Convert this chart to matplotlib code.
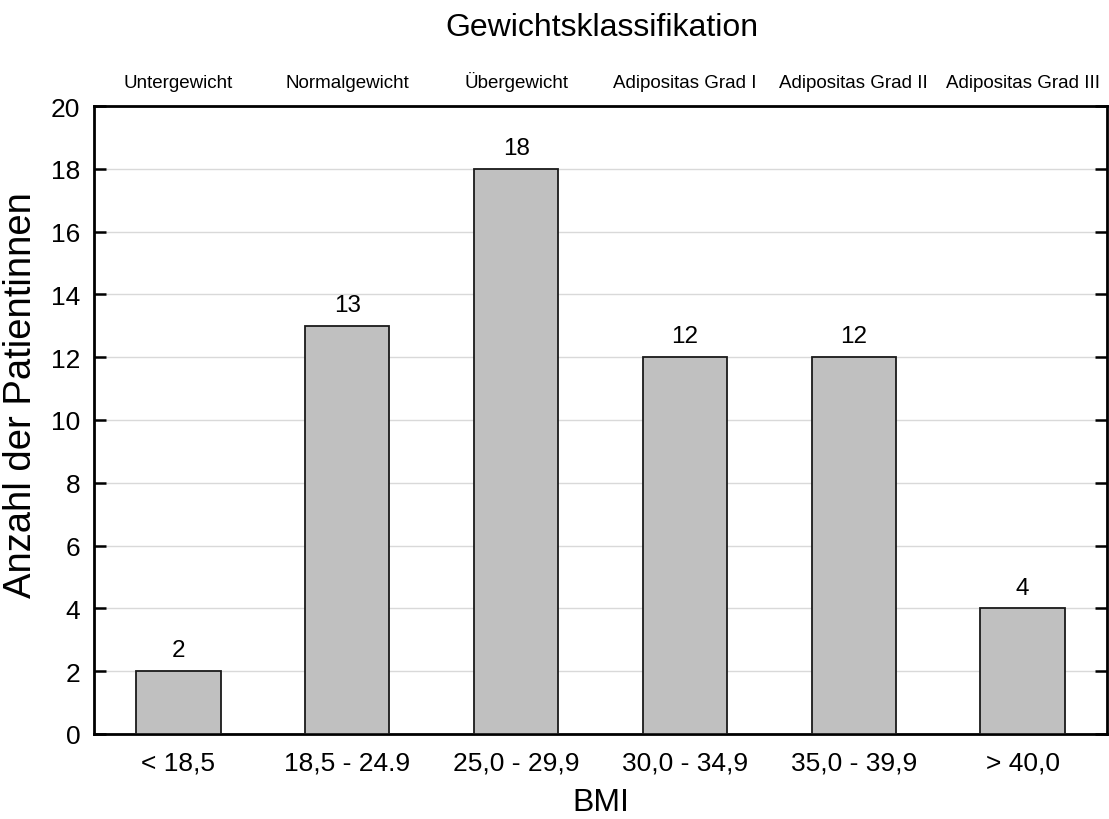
import matplotlib
matplotlib.use("Agg")
import matplotlib.pyplot as plt
import numpy as np

plt.rcParams['font.family'] = ['Liberation Sans', 'DejaVu Sans']

bmi_ranges = ["< 18,5", "18,5 - 24.9", "25,0 - 29,9", "30,0 - 34,9", "35,0 - 39,9", "> 40,0"]
classes = ["Untergewicht", "Normalgewicht", "Übergewicht",
           "Adipositas Grad I", "Adipositas Grad II", "Adipositas Grad III"]
patients = [2, 13, 18, 12, 12, 4]
y_ticks = [0, 2, 4, 6, 8, 10, 12, 14, 16, 18, 20]

fig = plt.figure(figsize=(11.09, 8.20), dpi=100)
ax = fig.add_axes([0.0848, 0.1037, 0.9134, 0.7658])

x = np.arange(len(bmi_ranges))
ax.bar(x, patients, width=0.5, color="#c0c0c0", edgecolor="#1a1a1a",
       linewidth=1.3, zorder=3)

for xi, v in zip(x, patients):
    ax.annotate(str(v), (xi, v), xytext=(0, 7), textcoords="offset points",
                ha="center", va="bottom", fontsize=17.5, zorder=4)

ax.set_xlim(-0.5, len(bmi_ranges) - 0.5)
ax.set_ylim(0, 20)
ax.set_yticks(y_ticks)
ax.set_xticks(x)
ax.set_xticklabels(bmi_ranges, fontsize=19)
ax.tick_params(axis="x", length=0, pad=12)
ax.tick_params(axis="y", direction="in", length=8.6, width=1.8, labelsize=19,
               pad=10, right=True)
ax.yaxis.grid(True, color="#d9d9d9", linewidth=1.0, zorder=0)
ax.set_axisbelow(True)

for sp in ax.spines.values():
    sp.set_linewidth(2.0)

# category names along the top edge
top = ax.secondary_xaxis("top")
top.set_xticks(x)
top.set_xticklabels(classes, fontsize=13.5)
top.tick_params(length=0, pad=11)
top.spines["top"].set_visible(False)

ax.set_xlabel("BMI", fontsize=23, labelpad=9)
ax.set_ylabel("Anzahl der Patientinnen", fontsize=27.5)
ax.yaxis.set_label_coords(-0.054, 0.541)
fig.text(0.5425, 0.966, "Gewichtsklassifikation", ha="center", va="center", fontsize=23)

fig.savefig("out.png", dpi=100)
